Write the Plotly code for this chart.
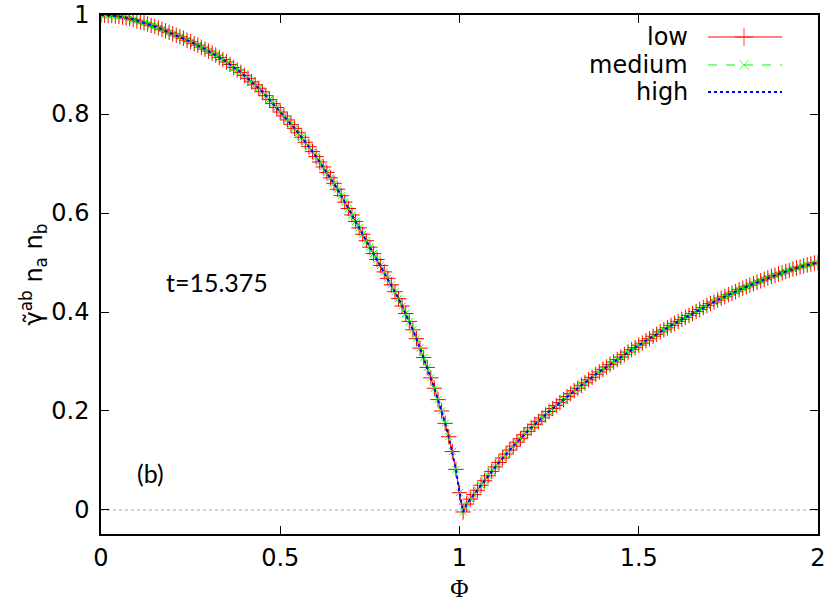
import plotly.graph_objects as go

# sampling grid of Phi (step 0.01, 0 .. 2)
phi = [round(0.01 * i, 2) for i in range(201)]

# values, left branch 0.00 .. 1.01
gamma_left = [
    1.000, 1.000, 0.999, 0.999, 0.998, 0.997, 0.996, 0.994, 0.993, 0.991,
    0.988, 0.986, 0.984, 0.982, 0.979, 0.977, 0.974, 0.971, 0.968, 0.965,
    0.962, 0.959, 0.956, 0.953, 0.949, 0.946, 0.942, 0.939, 0.935, 0.931,
    0.927, 0.923, 0.919, 0.914, 0.910, 0.905, 0.900, 0.894, 0.889, 0.884,
    0.878, 0.872, 0.865, 0.859, 0.852, 0.845, 0.837, 0.829, 0.821, 0.813,
    0.804, 0.796, 0.788, 0.779, 0.771, 0.762, 0.753, 0.743, 0.734, 0.724,
    0.714, 0.703, 0.693, 0.682, 0.671, 0.660, 0.648, 0.635, 0.622, 0.609,
    0.596, 0.583, 0.570, 0.557, 0.544, 0.531, 0.518, 0.506, 0.494, 0.481,
    0.468, 0.455, 0.441, 0.427, 0.412, 0.397, 0.381, 0.364, 0.346, 0.327,
    0.308, 0.288, 0.267, 0.246, 0.223, 0.200, 0.175, 0.148, 0.118, 0.082,
    0.035, -0.004,
]
# right branch 1.02 .. 2.00
gamma_right = [
    0.012, 0.022, 0.031, 0.040, 0.050, 0.059, 0.069, 0.078, 0.087,
    0.096, 0.105, 0.113, 0.121, 0.129, 0.137, 0.144, 0.152, 0.159, 0.166,
    0.173, 0.179, 0.186, 0.192, 0.199, 0.205, 0.211, 0.217, 0.223, 0.229,
    0.235, 0.241, 0.246, 0.252, 0.257, 0.263, 0.268, 0.274, 0.279, 0.284,
    0.289, 0.294, 0.299, 0.304, 0.309, 0.314, 0.319, 0.324, 0.328, 0.333,
    0.337, 0.342, 0.346, 0.351, 0.355, 0.360, 0.364, 0.368, 0.373, 0.377,
    0.381, 0.385, 0.389, 0.393, 0.397, 0.401, 0.405, 0.409, 0.413, 0.417,
    0.420, 0.424, 0.428, 0.431, 0.435, 0.438, 0.441, 0.445, 0.448, 0.451,
    0.454, 0.457, 0.460, 0.463, 0.466, 0.469, 0.472, 0.474, 0.477, 0.479,
    0.482, 0.484, 0.487, 0.489, 0.491, 0.493, 0.495, 0.497, 0.499, 0.500,
]
gamma_low = gamma_left + gamma_right
gamma_medium = gamma_left + gamma_right
gamma_high = gamma_left + gamma_right

series_names = ["low", "medium", "high"]
x_ticks = [0, 0.5, 1, 1.5, 2]
y_ticks = [0, 0.2, 0.4, 0.6, 0.8, 1]

TICK_FONT = dict(family="DejaVu Sans", size=24, color="black")

fig = go.Figure()

# the three resolutions, drawn low -> high so blue ends up on top
fig.add_trace(go.Scatter(x=phi, y=gamma_low, mode="lines+markers", name=series_names[0],
                         line=dict(color="#ff0000", width=1),
                         marker=dict(symbol="cross-thin", size=11, line=dict(color="#ff0000", width=1))))
fig.add_trace(go.Scatter(x=phi, y=gamma_medium, mode="lines+markers", name=series_names[1],
                         line=dict(color="#00ff00", width=1, dash="dash"),
                         marker=dict(symbol="x-thin", size=7, line=dict(color="#00ff00", width=1))))
fig.add_trace(go.Scatter(x=phi, y=gamma_high, mode="lines", name=series_names[2],
                         line=dict(color="#0000ff", width=2, dash="dot")))

# hand made legend (text right aligned, sample to the right), on an overlay axis in 0..1
leg_rows = [0.9576, 0.9037, 0.8516]
leg_x0, leg_xm, leg_x1 = 0.8466, 0.8968, 0.9498
leg_styles = [
    dict(line=dict(color="#ff0000", width=1),
         marker=dict(symbol="cross-thin", size=[0, 13, 0], line=dict(color="#ff0000", width=1))),
    dict(line=dict(color="#00ff00", width=1, dash="dash"),
         marker=dict(symbol="x-thin", size=[0, 9, 0], line=dict(color="#00ff00", width=1))),
    dict(line=dict(color="#0000ff", width=2, dash="dot"),
         marker=dict(size=[0, 0, 0])),
]
for name, row, style in zip(series_names, leg_rows, leg_styles):
    fig.add_trace(go.Scatter(x=[leg_x0, leg_xm, leg_x1], y=[row, row, row], mode="lines+markers",
                             xaxis="x2", yaxis="y2", hoverinfo="skip", **style))
    fig.add_annotation(text=name, xref="paper", yref="paper", x=0.8215, y=row,
                       xanchor="right", yanchor="middle", showarrow=False,
                       font=dict(family="DejaVu Sans", size=24, color="black"))

# dotted zero line
fig.add_shape(type="line", xref="x", yref="y", x0=0, x1=2, y0=0, y1=0,
              line=dict(color="#a0a0a0", width=1, dash="dot"), layer="below")

fig.add_annotation(text="t=15.375", x=0.323, y=0.461, xref="x", yref="y", showarrow=False,
                   font=dict(family="Lato", size=25, color="black"))
fig.add_annotation(text="(b)", x=0.137, y=0.075, xref="x", yref="y", showarrow=False,
                   font=dict(family="Lato", size=25, color="black"))

fig.update_layout(
    width=830, height=602,
    margin=dict(l=101, r=12, t=15, b=68),
    paper_bgcolor="white", plot_bgcolor="white",
    showlegend=False,
    xaxis=dict(range=[0, 2], tickvals=x_ticks, ticks="inside", ticklen=8, tickcolor="black",
               showline=True, linecolor="black", linewidth=1.5, mirror="ticks",
               showgrid=False, zeroline=False, tickfont=TICK_FONT, ticklabelstandoff=1,
               ticklabeloverflow="allow",
               title=dict(text="Φ", standoff=13, font=dict(family="Liberation Serif", size=25, color="black")),
               automargin=False),
    yaxis=dict(range=[-0.0485, 1.0], tickvals=y_ticks, ticks="inside", ticklen=8, tickcolor="black",
               showline=True, linecolor="black", linewidth=1.5, mirror="ticks",
               showgrid=False, zeroline=False, tickfont=TICK_FONT, ticklabelstandoff=5,
               ticklabeloverflow="allow",
               title=dict(text="γ̃<sup>ab</sup> n<sub>a</sub> n<sub>b</sub>", standoff=2,
                          font=dict(family="DejaVu Sans", size=24, color="black")),
               automargin=False),
    xaxis2=dict(range=[0, 1], overlaying="x", visible=False, fixedrange=True),
    yaxis2=dict(range=[0, 1], overlaying="y", visible=False, fixedrange=True),
)

# drop the default 8px body margin so the figure fills the window exactly
fig.write_html("out.html", config={"displayModeBar": False},
               post_script="document.body.style.margin='0';")
